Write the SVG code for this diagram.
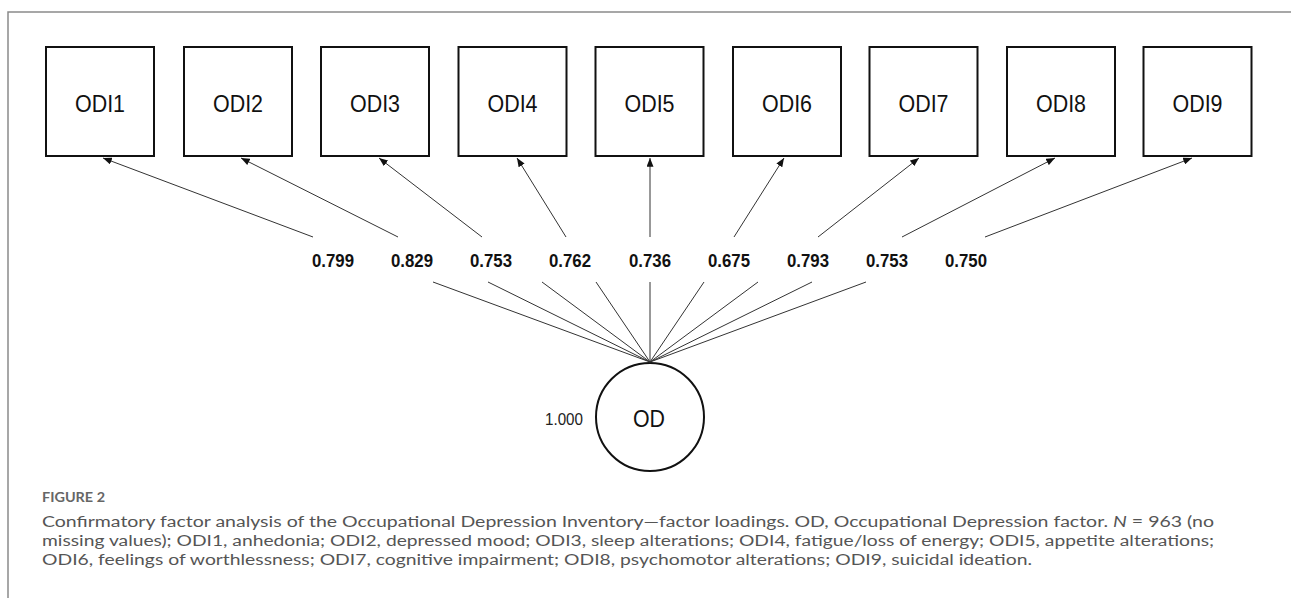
<svg xmlns="http://www.w3.org/2000/svg" width="1291" height="598" viewBox="0 0 1291 598">
  <defs>
    <marker id="arr" viewBox="0 0 10 8" refX="10" refY="4" markerWidth="9" markerHeight="7" markerUnits="userSpaceOnUse" orient="auto">
      <path d="M0,0 L10,4 L0,8 Z" fill="#111"/>
    </marker>
    <style>
      .box { fill: #fff; stroke: #111; stroke-width: 2; }
      .lbl { font-family: "Liberation Sans", Arial, sans-serif; font-size: 23px; fill: #111; text-anchor: middle; }
      .load { font-family: "Liberation Sans", Arial, sans-serif; font-size: 19px; font-weight: bold; fill: #111; text-anchor: middle; }
      .edge { stroke: #333; stroke-width: 1; fill: none; }
      .cap { font-family: Lato, "Open Sans", "Liberation Sans", sans-serif; font-size: 15.5px; fill: #555; }
      .frame { stroke: #8a8a8a; stroke-width: 1.5; fill: none; }
    </style>
  </defs>
  <rect x="0" y="0" width="1291" height="598" fill="#fff"/>
  <path class="frame" d="M8,598 L8,12 L1291,12"/>

  <g id="ODI1"><rect class="box" x="46" y="47" width="108" height="109"/><text class="lbl" x="100" y="112" textLength="50" lengthAdjust="spacingAndGlyphs">ODI1</text></g>
  <g id="ODI2"><rect class="box" x="184" y="47" width="108" height="109"/><text class="lbl" x="238" y="112" textLength="50" lengthAdjust="spacingAndGlyphs">ODI2</text></g>
  <g id="ODI3"><rect class="box" x="321" y="47" width="108" height="109"/><text class="lbl" x="375" y="112" textLength="50" lengthAdjust="spacingAndGlyphs">ODI3</text></g>
  <g id="ODI4"><rect class="box" x="458.5" y="47" width="108" height="109"/><text class="lbl" x="512.5" y="112" textLength="50" lengthAdjust="spacingAndGlyphs">ODI4</text></g>
  <g id="ODI5"><rect class="box" x="595.5" y="47" width="108" height="109"/><text class="lbl" x="649.5" y="112" textLength="50" lengthAdjust="spacingAndGlyphs">ODI5</text></g>
  <g id="ODI6"><rect class="box" x="733" y="47" width="108" height="109"/><text class="lbl" x="787" y="112" textLength="50" lengthAdjust="spacingAndGlyphs">ODI6</text></g>
  <g id="ODI7"><rect class="box" x="869.5" y="47" width="108" height="109"/><text class="lbl" x="923.5" y="112" textLength="50" lengthAdjust="spacingAndGlyphs">ODI7</text></g>
  <g id="ODI8"><rect class="box" x="1007" y="47" width="108" height="109"/><text class="lbl" x="1061" y="112" textLength="50" lengthAdjust="spacingAndGlyphs">ODI8</text></g>
  <g id="ODI9"><rect class="box" x="1143.5" y="47" width="108" height="109"/><text class="lbl" x="1197.5" y="112" textLength="50" lengthAdjust="spacingAndGlyphs">ODI9</text></g>

  <g id="OD">
    <circle cx="650" cy="417" r="54" fill="#fff" stroke="#111" stroke-width="2"/>
    <text class="lbl" x="649" y="427" textLength="32" lengthAdjust="spacingAndGlyphs">OD</text>
    <text x="564" y="425" font-family="Liberation Sans, Arial, sans-serif" font-size="16.5" fill="#222" text-anchor="middle" textLength="38" lengthAdjust="spacingAndGlyphs">1.000</text>
  </g>

  <g id="connectors">
    <line class="edge" x1="313" y1="237" x2="103" y2="158" marker-end="url(#arr)"/>
    <line class="edge" x1="398" y1="237" x2="241" y2="158" marker-end="url(#arr)"/>
    <line class="edge" x1="482" y1="237" x2="379" y2="158" marker-end="url(#arr)"/>
    <line class="edge" x1="566" y1="237" x2="517" y2="158" marker-end="url(#arr)"/>
    <line class="edge" x1="650" y1="237" x2="650" y2="158" marker-end="url(#arr)"/>
    <line class="edge" x1="734" y1="237" x2="784" y2="158" marker-end="url(#arr)"/>
    <line class="edge" x1="818" y1="237" x2="919" y2="158" marker-end="url(#arr)"/>
    <line class="edge" x1="902" y1="237" x2="1055" y2="158" marker-end="url(#arr)"/>
    <line class="edge" x1="985" y1="237" x2="1192" y2="158" marker-end="url(#arr)"/>

    <line class="edge" x1="433" y1="282" x2="650" y2="362"/>
    <line class="edge" x1="488" y1="282" x2="650" y2="362"/>
    <line class="edge" x1="542" y1="282" x2="650" y2="362"/>
    <line class="edge" x1="596" y1="282" x2="650" y2="362"/>
    <line class="edge" x1="650" y1="282" x2="650" y2="362"/>
    <line class="edge" x1="704" y1="282" x2="650" y2="362"/>
    <line class="edge" x1="758" y1="282" x2="650" y2="362"/>
    <line class="edge" x1="812" y1="282" x2="650" y2="362"/>
    <line class="edge" x1="866" y1="282" x2="650" y2="362"/>

    <text class="load" x="333" y="267" textLength="42" lengthAdjust="spacingAndGlyphs">0.799</text>
    <text class="load" x="412" y="267" textLength="42" lengthAdjust="spacingAndGlyphs">0.829</text>
    <text class="load" x="491" y="267" textLength="42" lengthAdjust="spacingAndGlyphs">0.753</text>
    <text class="load" x="570" y="267" textLength="42" lengthAdjust="spacingAndGlyphs">0.762</text>
    <text class="load" x="650" y="267" textLength="42" lengthAdjust="spacingAndGlyphs">0.736</text>
    <text class="load" x="729" y="267" textLength="42" lengthAdjust="spacingAndGlyphs">0.675</text>
    <text class="load" x="808" y="267" textLength="42" lengthAdjust="spacingAndGlyphs">0.793</text>
    <text class="load" x="887" y="267" textLength="42" lengthAdjust="spacingAndGlyphs">0.753</text>
    <text class="load" x="966" y="267" textLength="42" lengthAdjust="spacingAndGlyphs">0.750</text>
  </g>

  <g id="caption">
    <text x="42" y="502" font-family="Lato, Open Sans, Liberation Sans, sans-serif" font-size="13" font-weight="bold" fill="#666" textLength="63" lengthAdjust="spacingAndGlyphs">FIGURE 2</text>
    <text class="cap" x="42" y="527" textLength="1172" lengthAdjust="spacingAndGlyphs">Confirmatory factor analysis of the Occupational Depression Inventory—factor loadings. OD, Occupational Depression factor. <tspan font-style="italic">N</tspan> = 963 (no</text>
    <text class="cap" x="42" y="546" textLength="1172" lengthAdjust="spacingAndGlyphs">missing values); ODI1, anhedonia; ODI2, depressed mood; ODI3, sleep alterations; ODI4, fatigue/loss of energy; ODI5, appetite alterations;</text>
    <text class="cap" x="42" y="565" textLength="990" lengthAdjust="spacingAndGlyphs">ODI6, feelings of worthlessness; ODI7, cognitive impairment; ODI8, psychomotor alterations; ODI9, suicidal ideation.</text>
  </g>
</svg>
